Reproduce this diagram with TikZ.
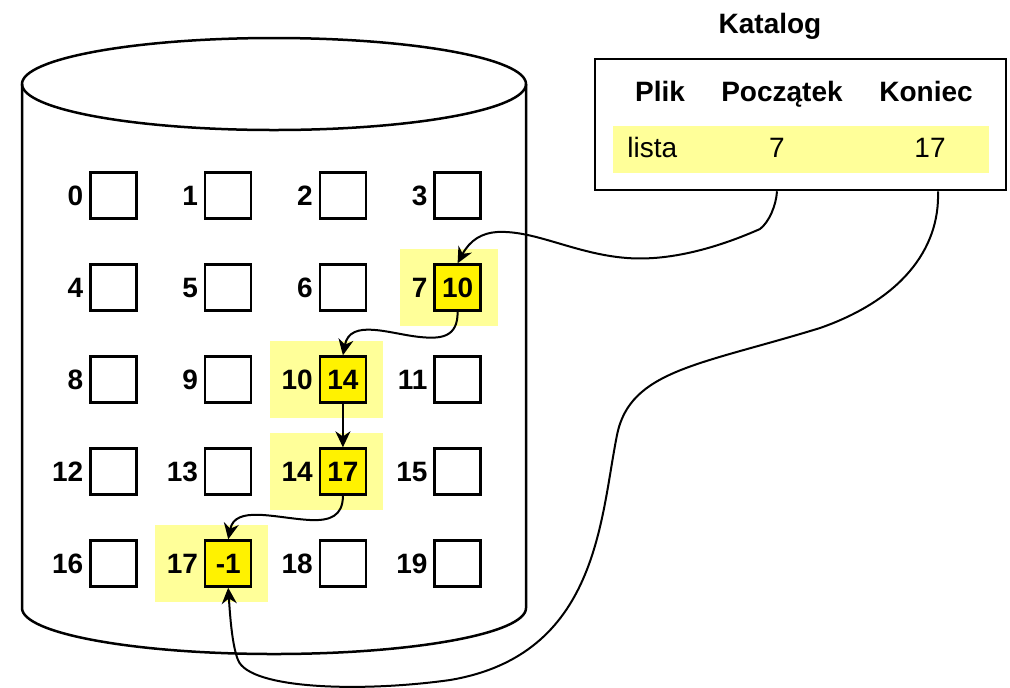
\documentclass[tikz,border=0pt]{standalone}
\usepackage{fontspec}
\setmainfont{Liberation Sans}
\usetikzlibrary{arrows.meta, backgrounds, fit, positioning}
\definecolor{lightyel}{HTML}{FFFF99}
\newcommand\diskfont{\fontsize{14pt}{16pt}\selectfont}
\tikzstyle{block}=[draw, line width=1.2pt, minimum size=23pt, inner sep=0pt, font=\diskfont\bfseries]
\tikzstyle{used}=[block, fill=yellow]
\tikzstyle{num}=[font=\diskfont\bfseries, inner sep=0pt, outer sep=0pt]
\tikzstyle{hilite}=[fill=lightyel, inner xsep=7pt, inner ysep=7pt, xshift=1pt]
\tikzstyle{link}=[->, line width=1pt, >={Stealth[length=8pt,width=7.5pt]}]

\begin{document}
\begin{tikzpicture}[x=0.5pt, y=-0.5pt, font=\diskfont]
  \useasboundingbox (0,0) rectangle (1010,687);
  % disk
  \draw[line width=1.25pt] (22,84) -- (22,608) arc[start angle=180, end angle=360, x radius=126pt, y radius=23pt] -- (526,84);
  \draw[line width=1.25pt] (274,84) ellipse[x radius=126pt, y radius=23pt];
  % blocks
  \foreach \r in {0,...,4}
    \foreach \c in {0,...,3} {
      \pgfmathtruncatemacro\n{4*\r+\c}
      \node[block] (b\n) at ({113.5+114.7*\c},{195.5+92*\r}) {};
      \node[num, left=3pt of b\n] (l\n) {\n};
    }
  \node[used] (u7) at (b7) {10};
  \node[used] (u10) at (b10) {14};
  \node[used] (u14) at (b14) {17};
  \node[used] (u17) at (b17) {-1};
  \begin{scope}[on background layer]
    \foreach \n in {7,10,14,17}
      \node[hilite, fit=(l\n)(b\n)] {};
  \end{scope}
  % catalogue
  \node[num, anchor=base] (title) at (770,33) {Katalog};
  \node[draw, line width=1.3pt, minimum width=205.5pt, minimum height=65.5pt] (kat) at (800.5,124.5) {};
  \node[fill=lightyel, minimum width=188pt, minimum height=23.5pt] (row) at (801,149.5) {};
  \node[num, anchor=base] (plik) at (660,101) {Plik};
  \node[num, anchor=base] (pocz) at (782,101) {Początek};
  \node[num, anchor=base] (kon) at (926,101) {Koniec};
  \node[inner sep=0pt, anchor=base west] (lista) at (627,157) {lista};
  \node[inner sep=0pt, anchor=base] (v7) at (777,157) {7};
  \node[inner sep=0pt, anchor=base] (v17) at (930,157) {17};
  \coordinate (a1) at (kat.south -| v7);
  \coordinate (k1) at ([xshift=4pt]kat.south -| v17);
  % chain
  \draw[link] (a1) .. controls (776,206) and (769,222) .. (760,229)
    .. controls (735,240) and (680,262) .. (627,258)
    .. controls (575,254) and (535,230) .. (497,232)
    .. controls (482,233) and (470,240) .. (u7.north);
  \draw[link] (u7.south) .. controls (458,338) and (440,339) .. (420,337)
    .. controls (390,334) and (350,318) .. (u10.north);
  \draw[link] (u10) -- (u14);
  \draw[link] (u14.south) .. controls (343,516) and (330,521) .. (310,520)
    .. controls (275,518) and (235,505) .. (u17.north);
  \draw[link] (k1) .. controls (940,250) and (900,300) .. (820,328)
    .. controls (700,365) and (630,370) .. (617,435)
    .. controls (600,520) and (598,655) .. (450,680)
    .. controls (365,692) and (250,690) .. (238,660)
    .. controls (232,645) and (230,615) .. (u17.south);
\end{tikzpicture}
\end{document}
